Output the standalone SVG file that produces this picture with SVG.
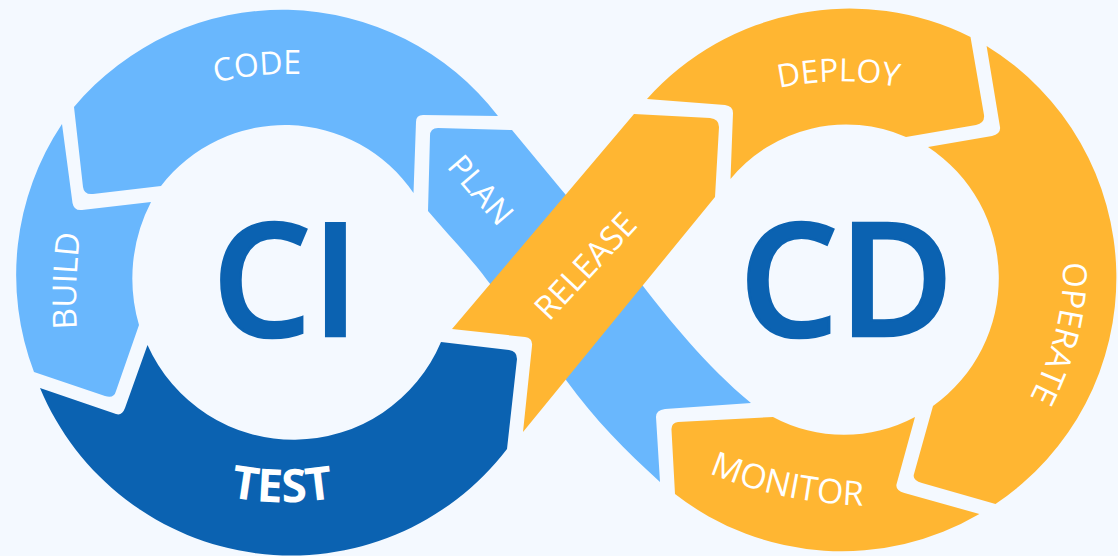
<svg xmlns="http://www.w3.org/2000/svg" width="1118" height="556" viewBox="0 0 1118 556">
<style>
.lb{fill:#69B7FD}.db{fill:#0B62B1}.or{fill:#FFB632}
text{font-family:"Open Sans","Liberation Sans",sans-serif}
.lab{fill:#fff;font-size:32px;font-weight:500}
.big{fill:#0B62B1;stroke:#0B62B1;stroke-width:2.5px;font-size:157px;font-weight:600}
</style>
<defs>
<path id="pCode" d="M216,83 Q256,72 308,74"/>
<path id="pBuild" d="M77,329 Q74,280 81,228"/>
<path id="pTest" d="M230,497 Q280,507 335,498"/>
<path id="pPlan" d="M446,167 L504,234"/>
<path id="pRelease" d="M549,322 L647,217"/>
<path id="pDeploy" d="M779,88 Q845,74 912,90"/>
<path id="pOperate" d="M1063,262 Q1066,335 1022,412"/>
<path id="pMonitor" d="M709,473 Q780,503 868,506"/>
</defs>
<rect width="1118" height="556" fill="#F4F9FF"/>
<g id="plan"><path class="lb" d="M430,136 Q430,128 438,128 L512,130 L560,188 L643,286 C668,318 705,365 751,403 L665,409 Q656,410 656,417 L660,482 C625,450 595,420 566,380 L487,280 C470,257 450,237 428,211 Z"/><text class="lab" style="font-size:32px"><textPath href="#pPlan">PLAN</textPath></text></g>
<g id="code"><path class="lb" d="M74,107 A272,272 0 0 1 498,116 L423,115 Q416,115 416,122 L413.5,193 A156,156 0 0 0 161,186 L93,194 Q84,195 83,187 Z"/><text class="lab"><textPath href="#pCode">CODE</textPath></text></g>
<g id="build"><path class="lb" d="M62,124 A272,272 0 0 0 34,372 L105,396 Q114,399 116,391 L139,325 A166,166 0 0 1 151,202 L82,210 Q74,211 72.5,203 Z"/><text class="lab" style="font-size:33px"><textPath href="#pBuild">BUILD</textPath></text></g>
<g id="test"><path class="db" d="M40,388 A272,272 0 0 0 507,449 L517,359 Q517,351 509,350 L441,342 A160,160 0 0 1 147.5,345 L125,408 Q122,416 116,414 Z"/><text class="lab" style="font-size:46px;font-weight:700"><textPath href="#pTest">TEST</textPath></text></g>
<g id="release"><path class="or" d="M634,114 L710,118 Q719,119 719,127 L715,197 L523,432 L532,346 Q533,338 525,337 L452,329 Z"/><text class="lab" style="font-size:33px"><textPath href="#pRelease">RELEASE</textPath></text></g>
<g id="deploy"><path class="or" d="M647,99 A272,272 0 0 1 970.5,37 L984,115 Q985,123 976,125 L906,137 A150,150 0 0 0 730.5,179 L733,113 Q733,106 725,105 Z"/><text class="lab" style="font-size:32px"><textPath href="#pDeploy">DEPLOY</textPath></text></g>
<g id="operate"><path class="or" d="M986.6,46 A272,272 0 0 1 995.5,504 L922,483 Q912,480 914,474 L933,406 A157,157 0 0 0 928,147 L992,136 Q1001,134 1000,127 Z"/><text class="lab" style="font-size:33px"><textPath href="#pOperate">OPERATE</textPath></text></g>
<g id="monitor"><path class="or" d="M678,422 Q671,423 671.5,430 L675,494 A272,272 0 0 0 979.4,514 L904.4,493 Q895,490 896.6,484 L915,417 A150,150 0 0 1 773,417 Z"/><text class="lab" style="font-size:34px"><textPath href="#pMonitor">MONITOR</textPath></text></g>
<g id="ci"><text class="big" x="212" y="336">CI</text></g>
<g id="cd"><text class="big" x="739" y="336">CD</text></g>
</svg>
